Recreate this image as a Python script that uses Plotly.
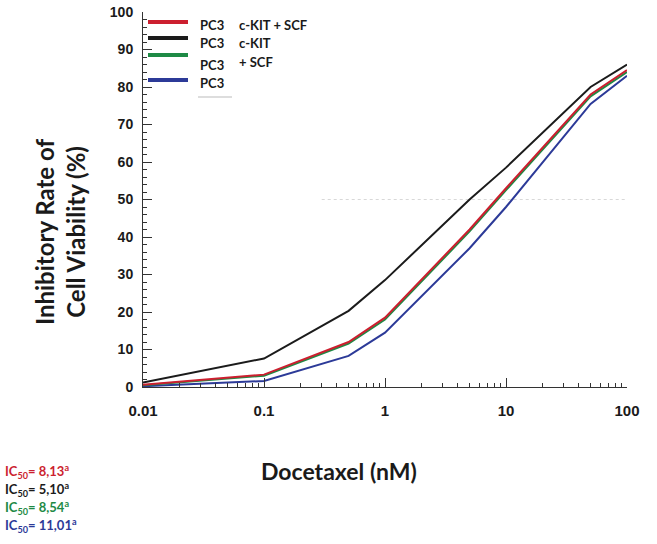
import plotly.graph_objects as go

W, H = 657, 544

doses = [0.01, 0.1, 0.5, 1, 5, 10, 50, 100]
pc3_kit_scf = [0.6, 3.3, 12.0, 18.5, 42.0, 53.0, 78.0, 84.5]
pc3_kit = [1.2, 7.6, 20.3, 28.5, 50.0, 58.5, 80.0, 86.0]
pc3_scf = [0.5, 3.0, 11.6, 18.0, 41.5, 52.5, 77.5, 84.0]
pc3 = [0.2, 1.6, 8.3, 14.5, 37.0, 48.0, 75.5, 83.0]

series_names = ["PC3 c-KIT + SCF", "PC3 c-KIT", "PC3 +SCF", "PC3"]
legend_right = ["c-KIT + SCF", "c-KIT", "+ SCF", ""]
ic50_values = ["8,13", "5,10", "8,54", "11,01"]

x_tickvals = [0.01, 0.1, 1, 10, 100]
x_ticktext = ["0.01", "0.1", "1", "10", "100"]
y_tickvals = list(range(0, 101, 10))

RED = "#cc1f2f"
BLACK = "#1b1b1b"
GREEN = "#1e8a45"
BLUE = "#2c3a98"
colors = [RED, BLACK, GREEN, BLUE]
AX = "#333333"


def px_x(p):
    return p / W


def px_y(p):
    return (H - p) / H


fig = go.Figure()
order = [(pc3, BLUE, series_names[3]), (pc3_kit, BLACK, series_names[1]),
         (pc3_scf, GREEN, series_names[2]), (pc3_kit_scf, RED, series_names[0])]
for vals, col, name in order:
    fig.add_trace(go.Scatter(x=doses, y=vals, mode="lines", name=name,
                             line=dict(color=col, width=2), showlegend=False,
                             cliponaxis=False))

minor_vals = [m * 10 ** k for k in range(-2, 2) for m in range(2, 10)]

fig.update_layout(
    width=W, height=H,
    margin=dict(l=0, r=0, t=0, b=0),
    paper_bgcolor="white", plot_bgcolor="white",
    xaxis=dict(
        type="log", range=[-2, 2],
        domain=[px_x(143), px_x(627)],
        anchor="y2",
        showgrid=False, zeroline=False,
        showline=True, linecolor=AX, linewidth=1,
        ticks="inside", ticklen=9, tickcolor=AX, tickwidth=1,
        tickvals=x_tickvals, ticktext=x_ticktext,
        tickfont=dict(family="Liberation Sans", size=15, color="#1a1a1a", weight="bold"),
        ticklabelstandoff=10,
        minor=dict(tickvals=minor_vals, ticks="inside", ticklen=4,
                   tickcolor=AX, tickwidth=1, showgrid=False),
        automargin=False,
    ),
    yaxis=dict(
        range=[0, 100],
        domain=[px_y(387), px_y(12)],
        anchor="x2",
        showgrid=False, zeroline=False,
        showline=True, linecolor=AX, linewidth=1,
        ticks="inside", ticklen=9, tickcolor=AX, tickwidth=1,
        tickvals=y_tickvals,
        tickfont=dict(family="Liberation Sans", size=14, color="#1a1a1a", weight="bold"),
        ticklabelstandoff=6,
        minor=dict(dtick=2, ticks="inside", ticklen=4, tickcolor=AX,
                   tickwidth=1, showgrid=False),
        automargin=False,
    ),
    xaxis2=dict(domain=[px_x(127), px_x(627)], anchor="y2", visible=False,
                range=[0, 1], showgrid=False, zeroline=False),
    yaxis2=dict(domain=[px_y(405), px_y(12)], anchor="x2", visible=False,
                range=[0, 1], showgrid=False, zeroline=False),
    showlegend=False,
)

# faint 50% reference line
fig.add_shape(type="line", xref="x", yref="y", x0=0.3, x1=100, y0=50, y1=50,
              line=dict(color="#d8d8d8", width=1, dash="dot"), layer="below")

# axis titles
fig.add_annotation(xref="paper", yref="paper", x=px_x(339), y=px_y(471),
                   xanchor="center", yanchor="middle",
                   text="<b>Docetaxel (nM)</b>", showarrow=False,
                   font=dict(family="Lato", size=23, color="#1a1a1a"))
fig.add_annotation(xref="paper", yref="paper", x=px_x(60), y=px_y(232),
                   xanchor="center", yanchor="middle",
                   text="<b>Inhibitory Rate of<br>Cell Viability (%)</b>",
                   textangle=-90, showarrow=False,
                   font=dict(family="Lato", size=24, color="#1a1a1a"))

# legend (drawn manually)
leg_line_y = [22, 38, 55, 80]
leg_text_y = [25, 43, 65, 83]
for i in range(4):
    fig.add_shape(type="line", xref="paper", yref="paper",
                  x0=px_x(148), x1=px_x(188), y0=px_y(leg_line_y[i]), y1=px_y(leg_line_y[i]),
                  line=dict(color=colors[i], width=4))
    fig.add_annotation(xref="paper", yref="paper", x=px_x(198), y=px_y(leg_text_y[i]),
                       xanchor="left", yanchor="middle", text="<b>PC3</b>", showarrow=False,
                       font=dict(family="Lato", size=13, color="#1a1a1a"))
    if legend_right[i]:
        fig.add_annotation(xref="paper", yref="paper", x=px_x(237),
                           y=px_y(leg_text_y[i] - (3 if i == 2 else 0)),
                           xanchor="left", yanchor="middle",
                           text="<b>" + legend_right[i] + "</b>", showarrow=False,
                           font=dict(family="Lato", size=13, color="#1a1a1a"))
fig.add_shape(type="line", xref="paper", yref="paper",
              x0=px_x(198), x1=px_x(232), y0=px_y(97), y1=px_y(97),
              line=dict(color="#bbbbbb", width=1))

# IC50 labels
ic_y = [471, 489, 507, 525]
for i in range(4):
    fig.add_annotation(xref="paper", yref="paper", x=px_x(3), y=px_y(ic_y[i]),
                       xanchor="left", yanchor="middle",
                       text="<b>IC<sub>50</sub>= " + ic50_values[i] + "<sup>a</sup></b>",
                       showarrow=False,
                       font=dict(family="Lato", size=13, color=colors[i]))

fig.write_html("out.html", config={"displayModeBar": False},
               post_script="document.body.style.margin='0';document.body.style.padding='0';")
